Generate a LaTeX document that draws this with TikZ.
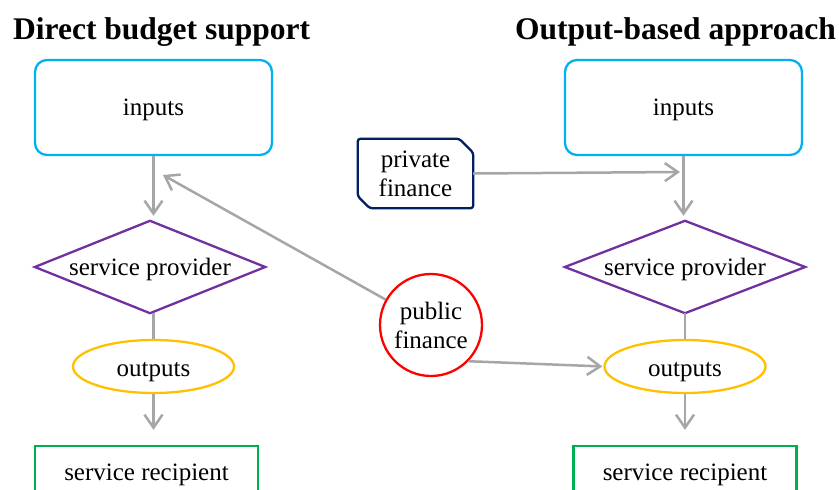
\documentclass[tikz,border=0pt]{standalone}
\usepackage{fontspec}
\setmainfont{Liberation Serif}
\usetikzlibrary{shapes.geometric,arrows.meta,calc}
\definecolor{ccyan}{HTML}{00B0F0}
\definecolor{cpurple}{HTML}{7030A0}
\definecolor{cgold}{HTML}{FFC000}
\definecolor{cgreen}{HTML}{00B050}
\definecolor{cred}{HTML}{FF0000}
\definecolor{cnavy}{HTML}{002060}
\definecolor{cgray}{HTML}{A6A6A6}
\begin{document}
\begin{tikzpicture}[x=1pt,y=-1pt,
  txt/.style={font=\fontsize{25}{29}\selectfont, align=center, inner sep=0pt},
  ttl/.style={font=\fontsize{31.5}{34}\selectfont\bfseries, inner sep=0pt, anchor=base west},
  inbox/.style={txt, text depth=0pt, draw=ccyan, line width=2.3pt, rounded corners=12pt, minimum width=237pt, minimum height=95pt},
  dia/.style={txt, text depth=0pt, draw=none, minimum height=92pt},
  diaedge/.style={draw=cpurple, line width=2.3pt, line join=miter},
  outell/.style={txt, text depth=0pt, text height=20pt, ellipse, draw=cgold, line width=2.3pt, minimum width=161pt, minimum height=53pt},
  recbox/.style={txt, text depth=0pt, draw=cgreen, line width=2.3pt, minimum width=223pt, minimum height=52pt},
  conn/.style={draw=cgray, line width=2.5pt},
  arr/.style={conn, -{Straight Barb[length=13pt,width=18pt,line width=2.5pt]}},
]
\useasboundingbox (0,0) rectangle (839,490);
% titles
\node[ttl] (t1) at (13,39) {Direct budget support};
\node[ttl] (t2) at (515,39) {Output-based approach};
% left column
\node[inbox] (lin) at (153.5,107.5) {inputs};
\node[dia, minimum width=230pt] (ldia) at (150,267) {service provider};
\draw[diaedge] (ldia.west) -- (ldia.north) -- (ldia.east) -- (ldia.south) -- cycle;
\node[outell] (lout) at (153.5,366.5) {outputs};
\node[recbox] (lrec) at (146.5,472) {service recipient};
% right column
\node[inbox] (rin) at (683.5,107.5) {inputs};
\node[dia, minimum width=240pt] (rdia) at (685,267) {service provider};
\draw[diaedge] (rdia.west) -- (rdia.north) -- (rdia.east) -- (rdia.south) -- cycle;
\node[outell] (rout) at (685,366.5) {outputs};
\node[recbox] (rrec) at (685,472) {service recipient};
% finance
\node[txt, circle, draw=cred, line width=2.3pt, minimum size=102pt] (pub) at (431,325) {public\\finance};
\node[txt, minimum width=115pt, minimum height=69pt] (priv) at (415.5,173.5) {private\\finance};
\draw[draw=cnavy, line width=2.3pt, rounded corners=2.5pt]
  ([xshift=-14pt]priv.north east) -- ([yshift=-14pt]priv.north east) -- (priv.south east)
  -- ([xshift=12pt]priv.south west) -- ([yshift=12pt]priv.south west) -- (priv.north west) -- cycle;
% connectors left
\draw[arr, shorten >=5pt] (lin) -- (lin.south |- ldia.north);
\draw[conn] (lout.north |- ldia.south) -- (lout.north);
\draw[arr, shorten >=15pt] (lout.south) -- (lout.south |- lrec.north);
% connectors right
\draw[arr, shorten >=5pt] (rin.south) -- (rin.south |- rdia.north);
\draw[conn] (rout.north |- rdia.south) -- (rout.north);
\draw[arr, shorten >=15pt] (rout.south) -- (rout.south |- rrec.north);
% finance connectors
\coordinate (ltip) at (163,175);
\coordinate (ptip) at (680,172);
\draw[arr] (pub) -- (ltip);
\draw[arr] (priv.east) -- (ptip);
\draw[arr, shorten >=1pt] (pub.-44) -- (rout.west);
\end{tikzpicture}
\end{document}
